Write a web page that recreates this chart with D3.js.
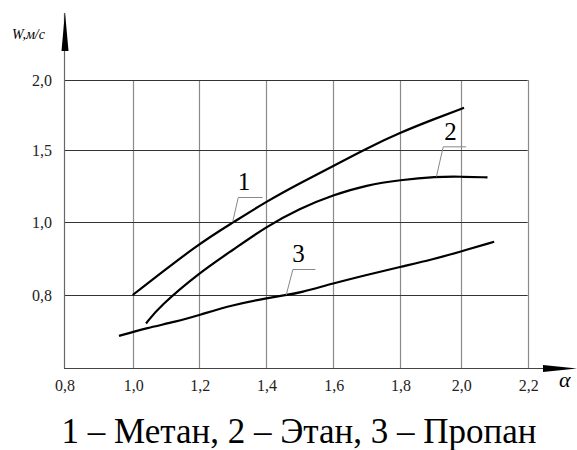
<!DOCTYPE html>
<html>
<head>
<meta charset="utf-8">
<script src="https://cdn.jsdelivr.net/npm/d3@7/dist/d3.min.js"></script>
<style>
  @font-face { font-family: "ChartSerif"; font-style: normal; src: local("Liberation Serif"), local("LiberationSerif"), local("Tinos"); }
  @font-face { font-family: "ChartSerif"; font-style: italic; src: local("Liberation Serif Italic"), local("LiberationSerif-Italic"), local("Tinos Italic"); }
</style>
</head>
<body style="margin:0">
<svg id="chart" width="577" height="450"></svg>
<script>
// α values and flame speed W (m/s) for each gas
const alpha1 = [1.00, 1.20, 1.30, 1.40, 1.50, 1.60, 1.70, 1.80, 1.91, 2.01];
const speed1 = [0.80, 0.942, 0.998, 1.141, 1.269, 1.389, 1.512, 1.624, 1.719, 1.802];

const alpha2 = [1.04, 1.08, 1.20, 1.30, 1.40, 1.50, 1.60, 1.70, 1.80, 1.92, 2.00, 2.08];
const speed2 = [0.722, 0.768, 0.861, 0.923, 0.987, 1.095, 1.188, 1.257, 1.292, 1.315, 1.315, 1.31];

const alpha3 = [0.96, 1.04, 1.13, 1.20, 1.30, 1.40, 1.46, 1.50, 1.60, 1.70, 1.80, 1.91, 2.00, 2.10];
const speed3 = [0.688, 0.709, 0.727, 0.745, 0.773, 0.791, 0.80, 0.806, 0.832, 0.855, 0.877, 0.898, 0.919, 0.946];

const seriesNames = ["1", "2", "3"];
const legendText = "1 – Метан, 2 – Этан, 3 – Пропан";

// tick labels
const xTicks = [0.8, 1.0, 1.2, 1.4, 1.6, 1.8, 2.0, 2.2];
const yTicks = [0.8, 1.0, 1.5, 2.0];
const yBottom = 0.6;

// callout anchors on the curves (α, W)
const calloutAlpha = [1.30, 1.92, 1.46];
const calloutSpeed = [1.0, 1.315, 0.80];

const fmt = v => d3.format(".1f")(v).replace(".", ",");
const SERIF = "'Liberation Serif', 'ChartSerif', 'Times New Roman', monospace";

const svg = d3.select("#chart");

// hand-ruled grid: piecewise scales following the drawn grid lines
const x = d3.scaleLinear()
  .domain(xTicks)
  .range([64, 132.7, 199.3, 266, 333.3, 400, 460.7, 527.7]);
const y = d3.scaleLinear()
  .domain([yBottom].concat(yTicks))
  .range([368, 295, 222, 150, 80]);

const gTop = y(2.0), gBottom = y(yBottom), gLeft = x(0.8), gRight = x(2.2);

// vertical grid lines
svg.append("g").selectAll("line")
  .data(xTicks.slice(1))
  .join("line")
  .attr("x1", d => Math.round(x(d)) + 0.5)
  .attr("x2", d => Math.round(x(d)) + 0.5)
  .attr("y1", gTop).attr("y2", gBottom)
  .attr("stroke", "#8a8a8a").attr("stroke-width", 1.2);

// horizontal grid lines
svg.append("g").selectAll("line")
  .data(yTicks)
  .join("line")
  .attr("x1", gLeft).attr("x2", gRight)
  .attr("y1", d => Math.round(y(d)) + 0.5)
  .attr("y2", d => Math.round(y(d)) + 0.5)
  .attr("stroke", "#333").attr("stroke-width", 1);

// axes with arrows
svg.append("line")
  .attr("x1", gLeft + 0.5).attr("x2", gLeft + 0.5)
  .attr("y1", 13).attr("y2", gBottom)
  .attr("stroke", "#666").attr("stroke-width", 1.2);
svg.append("line")
  .attr("x1", gLeft).attr("x2", 560)
  .attr("y1", gBottom + 0.5).attr("y2", gBottom + 0.5)
  .attr("stroke", "#444").attr("stroke-width", 1.2);
svg.append("path")
  .attr("d", `M${gLeft + 1},12 L${gLeft + 4.5},51 L${gLeft - 2.5},51 Z`)
  .attr("fill", "#000");
svg.append("path")
  .attr("d", `M543,${gBottom - 3} L577,${gBottom + 0.5} L543,${gBottom + 4} Z`)
  .attr("fill", "#000");

// tick labels
svg.append("g").selectAll("text")
  .data(yTicks)
  .join("text")
  .attr("x", 52).attr("y", d => y(d) + 5.5)
  .attr("text-anchor", "end")
  .attr("font-size", 16)
  .attr("font-family", SERIF)
  .attr("fill", "#222")
  .style("font-family", SERIF)
  .text(fmt);

svg.append("g").selectAll("text")
  .data(xTicks)
  .join("text")
  .attr("x", d => x(d) + 1).attr("y", 391)
  .attr("text-anchor", "middle")
  .attr("font-size", 16)
  .attr("font-family", SERIF)
  .attr("fill", "#222")
  .style("font-family", SERIF)
  .text(fmt);

// axis titles
svg.append("text")
  .attr("x", 12).attr("y", 39)
  .attr("font-size", 14).attr("font-style", "italic")
  .attr("font-family", SERIF)
  .style("font-family", SERIF)
  .text("W,м/с");
svg.append("text")
  .attr("x", 559).attr("y", 387)
  .attr("font-size", 22).attr("font-style", "italic")
  .attr("font-family", SERIF)
  .style("font-family", SERIF)
  .text("α");

// curves
const series = [
  alpha1.map((a, i) => [a, speed1[i]]),
  alpha2.map((a, i) => [a, speed2[i]]),
  alpha3.map((a, i) => [a, speed3[i]])
];
const line = d3.line()
  .x(d => x(d[0])).y(d => y(d[1]))
  .curve(d3.curveBasis);

svg.append("g").selectAll("path")
  .data(series)
  .join("path")
  .attr("d", line)
  .attr("fill", "none")
  .attr("stroke", "#000")
  .attr("stroke-width", 2.2);

// numbered callouts with leader lines
const leaderOffsets = [
  { ex: 5.6, ey: -25, hx: 30, tx: 11.3, ty: -32.4 },
  { ex: 6.8, ey: -30.3, hx: 29.8, tx: 14, ty: -36.5 },
  { ex: 6.7, ey: -26, hx: 29.2, tx: 12.4, ty: -33 }
];
const callouts = svg.append("g");
seriesNames.forEach((name, i) => {
  const ax = x(calloutAlpha[i]), ay = y(calloutSpeed[i]);
  const o = leaderOffsets[i];
  callouts.append("path")
    .attr("d", `M${ax},${ay} L${ax + o.ex},${ay + o.ey + 0.5} L${ax + o.hx},${ay + o.ey + 0.5}`)
    .attr("fill", "none")
    .attr("stroke", "#888")
    .attr("stroke-width", 1);
  callouts.append("text")
    .attr("x", ax + o.tx).attr("y", ay + o.ty)
    .attr("text-anchor", "middle")
    .attr("font-size", 25)
    .attr("font-family", SERIF)
    .style("font-family", SERIF)
    .text(name);
});

// legend
svg.append("text")
  .attr("x", 299).attr("y", 443)
  .attr("text-anchor", "middle")
  .attr("font-size", 35)
  .attr("font-family", SERIF)
  .style("font-family", SERIF)
  .text(legendText);
</script>
</body>
</html>
